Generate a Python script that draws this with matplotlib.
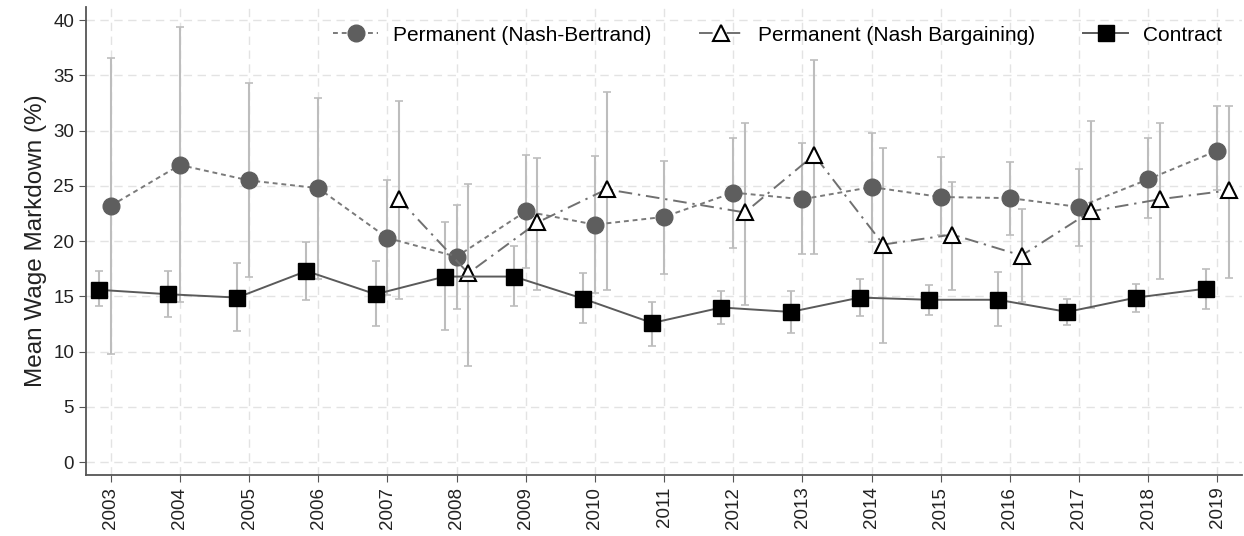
import matplotlib
matplotlib.use("Agg")
import matplotlib.pyplot as plt
import numpy as np

plt.rcParams['font.family'] = ['Liberation Sans', 'DejaVu Sans']

# year labels on the x axis
years = np.arange(2003, 2020)

# Permanent (Nash-Bertrand): mean and 95% interval
bert_mean = [23.2, 26.9, 25.5, 24.8, 20.3, 18.6, 22.7, 21.5, 22.2, 24.4, 23.8, 24.9, 24.0, 23.9, 23.1, 25.6, 28.2]
bert_lo = [9.8, 14.5, 16.8, 16.6, 15.1, 13.9, 17.6, 15.3, 17.0, 19.4, 18.8, 19.9, 20.6, 20.6, 19.6, 22.1, 24.6]
bert_hi = [36.6, 39.4, 34.3, 33.0, 25.5, 23.3, 27.8, 27.7, 27.3, 29.3, 28.9, 29.8, 27.6, 27.2, 26.5, 29.3, 32.2]

# Permanent (Nash Bargaining): no estimate before 2007 and in 2011
barg_years = [2007, 2008, 2009, 2010, 2012, 2013, 2014, 2015, 2016, 2017, 2018, 2019]
barg_mean = [23.8, 17.1, 21.7, 24.7, 22.6, 27.8, 19.7, 20.6, 18.7, 22.7, 23.8, 24.6]
barg_lo = [14.8, 8.7, 15.6, 15.6, 14.2, 18.8, 10.8, 15.6, 14.5, 14.0, 16.6, 16.7]
barg_hi = [32.7, 25.2, 27.5, 33.5, 30.7, 36.4, 28.4, 25.4, 22.9, 30.9, 30.7, 32.2]

# Contract
con_mean = [15.6, 15.2, 14.9, 17.3, 15.2, 16.8, 16.8, 14.8, 12.6, 14.0, 13.6, 14.9, 14.7, 14.7, 13.6, 14.9, 15.7]
con_lo = [14.1, 13.1, 11.9, 14.7, 12.3, 12.0, 14.1, 12.6, 10.5, 12.5, 11.7, 13.2, 13.3, 12.3, 12.4, 13.6, 13.9]
con_hi = [17.3, 17.3, 18.0, 19.9, 18.2, 21.7, 19.6, 17.1, 14.5, 15.5, 15.5, 16.6, 16.0, 17.2, 14.8, 16.1, 17.5]

shift = 0.17
ci_color = '#bdbdbd'

fig, ax = plt.subplots(figsize=(12.44, 5.36), dpi=100)
fig.subplots_adjust(left=0.069, right=0.998, top=0.987, bottom=0.114)


def draw_ci(x, mean, lo, hi):
    mean = np.array(mean)
    err = [mean - np.array(lo), np.array(hi) - mean]
    ax.errorbar(x, mean, yerr=err, fmt='none', ecolor=ci_color,
                elinewidth=1.5, capsize=3, capthick=1.2, zorder=2)


draw_ci(years, bert_mean, bert_lo, bert_hi)
draw_ci(np.array(barg_years) + shift, barg_mean, barg_lo, barg_hi)
draw_ci(years - shift, con_mean, con_lo, con_hi)

ax.plot(years, bert_mean, color='#7a7a7a', linestyle=(0, (2.5, 2)), linewidth=1.4,
        marker='o', markersize=12, markerfacecolor='#5e5e5e', markeredgecolor='#5e5e5e',
        label='Permanent (Nash-Bertrand)', zorder=3)
ax.plot(np.array(barg_years) + shift, barg_mean, color='#707070',
        linestyle=(0, (7, 3, 1.2, 3)), linewidth=1.4,
        marker='^', markersize=11, markerfacecolor='white', markeredgecolor='black',
        markeredgewidth=1.5, label='Permanent (Nash Bargaining)', zorder=4)
ax.plot(years - shift, con_mean, color='#5a5a5a', linestyle='-', linewidth=1.4,
        marker='s', markersize=12, markerfacecolor='black', markeredgecolor='black',
        label='Contract', zorder=5)

ax.set_xlim(2002.64, 2019.35)
ax.set_ylim(-1.15, 41.2)
ax.set_xticks(years)
ax.set_xticklabels([str(y) for y in years], rotation=90, fontsize=13.5, color='#222222')
ax.set_yticks(np.arange(0, 41, 5))
ax.tick_params(axis='y', labelsize=13.5, labelcolor='#222222', length=5, color='#555555')
ax.tick_params(axis='x', length=5, color='#555555')
ax.set_ylabel('Mean Wage Markdown (%)', fontsize=17.5, color='#222222', labelpad=4)

ax.grid(True, linestyle=(0, (6, 4)), color='#e3e3e3', linewidth=1.0)
ax.set_axisbelow(True)
for side in ['top', 'right']:
    ax.spines[side].set_visible(False)
for side in ['left', 'bottom']:
    ax.spines[side].set_color('#555555')
    ax.spines[side].set_linewidth(1.3)

ax.legend(loc='center right', ncol=3, frameon=False, fontsize=15,
          handlelength=2.15, handletextpad=0.7, columnspacing=2.3,
          borderpad=0, borderaxespad=0, bbox_to_anchor=(0.983, 0.94))

fig.savefig('out.png', dpi=100)
